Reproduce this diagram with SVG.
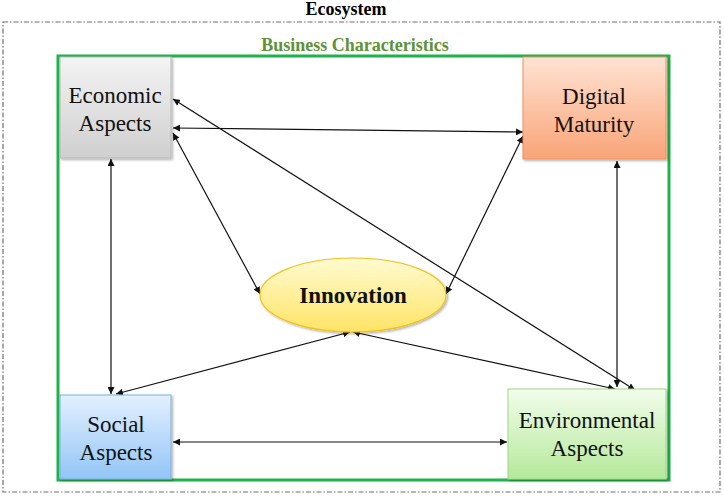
<svg xmlns="http://www.w3.org/2000/svg" width="724" height="496" viewBox="0 0 724 496">
<style>
.node text{font-family:"Liberation Serif","Times New Roman",serif;font-size:23px;fill:#111;text-anchor:middle}
.conn line{stroke:#111;stroke-width:1.2;marker-start:url(#ah);marker-end:url(#ah)}
.title{font-family:"Liberation Serif","Times New Roman",serif;font-weight:bold;text-anchor:middle}
</style>
<defs>
<marker id="ah" viewBox="0 0 10 10" refX="10" refY="5" markerWidth="7" markerHeight="7" markerUnits="userSpaceOnUse" orient="auto-start-reverse"><path d="M0,0 L10,5 L0,10 z" fill="#111"/></marker>
<linearGradient id="gEco" x1="0" y1="0" x2="0" y2="1"><stop offset="0" stop-color="#f4f4f4"/><stop offset="1" stop-color="#cfcfcf"/></linearGradient>
<linearGradient id="gDig" x1="0" y1="0" x2="0" y2="1"><stop offset="0" stop-color="#ffe3d4"/><stop offset="1" stop-color="#f9a477"/></linearGradient>
<linearGradient id="gSoc" x1="0" y1="0" x2="0" y2="1"><stop offset="0" stop-color="#e3f0ff"/><stop offset="1" stop-color="#92c5f5"/></linearGradient>
<linearGradient id="gEnv" x1="0" y1="0" x2="0" y2="1"><stop offset="0" stop-color="#f2fdeb"/><stop offset="1" stop-color="#b5e99b"/></linearGradient>
<linearGradient id="gInn" x1="0" y1="0" x2="0" y2="1"><stop offset="0" stop-color="#fffbd0"/><stop offset="1" stop-color="#ffe466"/></linearGradient>
<filter id="sh" x="-10%" y="-10%" width="125%" height="125%"><feDropShadow dx="1.5" dy="1.5" stdDeviation="1.2" flood-color="#000" flood-opacity="0.3"/></filter>
</defs>
<rect width="724" height="496" fill="#fff"/>
<g id="ecosystem">
<rect x="3" y="22" width="717" height="470" fill="none" stroke="#707070" stroke-width="1.2" stroke-dasharray="5 2 1.5 2"/>
<text class="title" x="346" y="15" font-size="18">Ecosystem</text>
</g>
<g id="business">
<rect x="58" y="56" width="611" height="424" fill="none" stroke="#1fb24a" stroke-width="3"/>
<text class="title" x="355" y="51" font-size="18" fill="#5f9136">Business Characteristics</text>
</g>
<g class="conn" id="connectors">
<line x1="173" y1="99" x2="635" y2="390"/>
<line x1="173" y1="128" x2="523" y2="132"/>
<line x1="173" y1="133" x2="260" y2="294"/>
<line x1="523" y1="136" x2="446" y2="294"/>
<line x1="111" y1="159" x2="111" y2="394"/>
<line x1="617" y1="161" x2="617" y2="387"/>
<line x1="350" y1="332" x2="116" y2="394"/>
<line x1="353" y1="332" x2="615" y2="389"/>
<line x1="173" y1="442" x2="507" y2="442"/>
</g>
<g id="economic" class="node">
<rect x="60" y="57" width="111" height="101" fill="url(#gEco)" stroke="#b8b8b8" stroke-width="1" filter="url(#sh)"/>
<text x="115" y="103">Economic</text>
<text x="115" y="131">Aspects</text>
</g>
<g id="digital" class="node">
<rect x="523" y="57" width="143" height="102" fill="url(#gDig)" stroke="#f09060" stroke-width="1" filter="url(#sh)"/>
<text x="594" y="104">Digital</text>
<text x="594" y="132">Maturity</text>
</g>
<g id="social" class="node">
<rect x="60" y="395" width="111" height="84" fill="url(#gSoc)" stroke="#7ab0e0" stroke-width="1" filter="url(#sh)"/>
<text x="116" y="432">Social</text>
<text x="116" y="460">Aspects</text>
</g>
<g id="environmental" class="node">
<rect x="508" y="389" width="158" height="90" fill="url(#gEnv)" stroke="#a0d888" stroke-width="1" filter="url(#sh)"/>
<text x="587" y="428">Environmental</text>
<text x="587" y="456">Aspects</text>
</g>
<g id="innovation" class="node">
<ellipse cx="353" cy="295" rx="93" ry="37" fill="url(#gInn)" stroke="#f2c21b" stroke-width="1.2" filter="url(#sh)"/>
<text x="353" y="303" font-weight="bold" font-size="22">Innovation</text>
</g>
</svg>
